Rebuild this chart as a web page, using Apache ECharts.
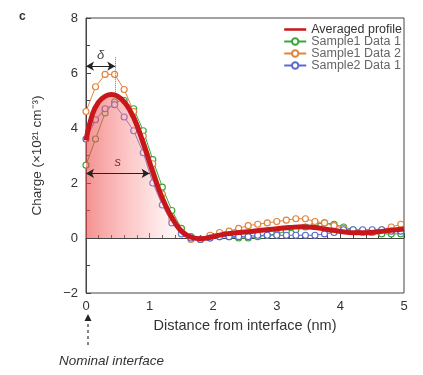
<!DOCTYPE html>
<html><head><meta charset="utf-8">
<script src="https://cdn.jsdelivr.net/npm/echarts@6/dist/echarts.min.js"></script>
<style>html,body{margin:0;padding:0;background:#fff}#c{width:423px;height:375px}</style>
</head><body><div id="c"></div>
<script>
var xs = [0,0.15,0.3,0.45,0.6,0.75,0.9,1.05,1.2,1.35,1.5,1.65,1.8,1.95,2.1,2.25,2.4,2.55,2.7,2.85,3.0,3.15,3.3,3.45,3.6,3.75,3.9,4.05,4.2,4.35,4.5,4.65,4.8,4.95];
var sample1Data1 = [2.65,3.6,4.55,4.95,5.0,4.7,3.9,2.85,1.85,1.0,0.35,0.05,-0.05,0.0,0.05,0.05,0.0,0.0,0.05,0.1,0.15,0.25,0.3,0.4,0.5,0.55,0.5,0.4,0.3,0.25,0.2,0.15,0.15,0.15];
var sample1Data2 = [4.6,5.5,5.95,5.95,5.4,4.6,3.7,2.7,1.6,0.7,0.2,-0.05,-0.05,0.1,0.2,0.25,0.35,0.45,0.5,0.55,0.6,0.65,0.7,0.7,0.6,0.55,0.45,0.35,0.25,0.2,0.2,0.3,0.4,0.5];
var sample2Data1 = [3.6,4.3,4.7,4.85,4.4,3.9,3.1,2.0,1.2,0.55,0.15,0.0,-0.05,0.0,0.05,0.05,0.05,0.05,0.1,0.1,0.1,0.1,0.1,0.1,0.1,0.15,0.2,0.3,0.3,0.3,0.3,0.3,0.25,0.25];
var avgX = [0,0.1,0.2,0.3,0.4,0.5,0.6,0.7,0.8,0.9,1.0,1.1,1.2,1.3,1.4,1.5,1.6,1.7,1.8,1.9,2.0,2.2,2.4,2.6,2.8,3.0,3.2,3.4,3.6,3.8,4.0,4.2,4.4,4.6,4.8,5.0];
var avgY = [3.55,4.5,4.95,5.15,5.22,5.15,4.95,4.6,4.1,3.45,2.75,2.05,1.45,0.95,0.55,0.25,0.08,0.0,-0.03,0.0,0.05,0.15,0.2,0.24,0.29,0.34,0.38,0.41,0.38,0.31,0.24,0.19,0.19,0.23,0.28,0.33];
var yTicks = [-2,0,2,4,6,8];
var xTicks = [0,1,2,3,4,5];

function pairs(x, y){ return x.map(function(v,i){ return [v, y[i]]; }); }
var FONT = 'Liberation Sans';
var chart = echarts.init(document.getElementById('c'));
function sampleSeries(name, data, color){
  return {name:name, type:'line', data:pairs(xs,data), symbol:'circle', symbolSize:6,
    itemStyle:{color:'#fff', borderColor:color, borderWidth:1.2},
    lineStyle:{color:color, width:1}, z:3};
}
var graphics = [
  {type:'text', left:19, top:11, style:{text:'c', fontFamily:FONT, fontWeight:'bold', fontSize:12, fill:'#333'}}
];
chart.setOption({
  animation:false,
  textStyle:{fontFamily:FONT},
  grid:{left:86, right:19, top:18, bottom:82, show:true, borderColor:'#444', borderWidth:1, backgroundColor:'transparent'},
  legend:{
    orient:'vertical', right:16, top:18, itemGap:-1, itemWidth:22, itemHeight:8,
    textStyle:{fontFamily:FONT, fontSize:12.5, color:'#666'},
    data:[{name:'Averaged profile', icon:'path://M0,0L0.01,0M0,2.6L24,2.6L24,5.4L0,5.4ZM0,8L0.01,8', textStyle:{color:'#333'}},
      'Sample1 Data 1','Sample1 Data 2','Sample2 Data 1']
  },
  xAxis:{type:'value', min:0, max:5, interval:1,
    name:'Distance from interface (nm)', nameLocation:'middle', nameGap:25,
    nameTextStyle:{fontFamily:FONT, fontSize:14.5, color:'#333'},
    axisLine:{lineStyle:{color:'#444'}},
    axisTick:{inside:true, length:5, lineStyle:{color:'#444'}},
    minorTick:{show:true, splitNumber:5, length:3, lineStyle:{color:'#444'}},
    axisLabel:{fontFamily:FONT, fontSize:13, color:'#333', margin:7},
    splitLine:{show:false}},
  yAxis:{type:'value', min:-2, max:8, interval:2,
    name:'Charge (×10²¹ cm⁻³)', nameLocation:'middle', nameGap:42,
    nameTextStyle:{fontFamily:FONT, fontSize:13.5, color:'#333'},
    axisLine:{lineStyle:{color:'#444'}},
    axisTick:{inside:true, length:5, lineStyle:{color:'#444'}},
    minorTick:{show:true, splitNumber:2, length:4, lineStyle:{color:'#444'}},
    axisLabel:{fontFamily:FONT, fontSize:13, color:'#333', margin:8,
      formatter:function(v){ return v<0 ? '\u2212'+Math.abs(v) : String(v); }},
    splitLine:{show:false}},
  series:[
    {name:'Averaged profile', type:'line', data:pairs(avgX,avgY), smooth:true, showSymbol:false, symbol:'none',
      lineStyle:{color:'#c8161a', width:5}, itemStyle:{color:'#c8161a'}, z:4,
      areaStyle:{origin:0, color:{type:'linear', x:0, y:0, x2:1, y2:0, colorStops:[
        {offset:0, color:'rgba(238,70,70,0.85)'},
        {offset:0.08, color:'rgba(244,105,105,0.72)'},
        {offset:0.18, color:'rgba(250,150,150,0.55)'},
        {offset:0.28, color:'rgba(255,205,205,0.3)'},
        {offset:0.36, color:'rgba(255,255,255,0)'},
        {offset:1, color:'rgba(255,255,255,0)'}]}},
      markLine:{silent:true, symbol:['none','none'], z:2,
        lineStyle:{color:'#444', width:1, type:'solid'}, label:{show:false},
        data:[{yAxis:0}]}
    },
    sampleSeries('Sample1 Data 1', sample1Data1, '#3aa63a'),
    sampleSeries('Sample1 Data 2', sample1Data2, '#e0843c'),
    sampleSeries('Sample2 Data 1', sample2Data1, '#5a6ad0'),
    {name:'annot', type:'line', data:[], z:6,
      markLine:{silent:true, symbol:['arrow','arrow'], symbolSize:[7,8],
        lineStyle:{color:'#222', width:1, type:'solid'},
        label:{show:true, position:'middle', fontFamily:FONT, fontStyle:'italic', fontSize:13, color:'#444', distance:4},
        data:[
          [{coord:[0,6.25], name:'δ'}, {coord:[0.46,6.25]}],
          [{coord:[0,2.35], name:'s', label:{color:'#8a2a2a', fontSize:13}}, {coord:[1.0,2.35]}],
          [{coord:[0.46,5.3], symbol:'none', lineStyle:{type:'dotted', color:'#777'}, label:{show:false}}, {coord:[0.46,6.6], symbol:'none'}]
        ]}
    }
  ],
  graphic:graphics
});
var p0 = chart.convertToPixel({xAxisIndex:0, yAxisIndex:0}, [0,-2]);
chart.setOption({graphic:graphics.concat([
  {type:'line', shape:{x1:p0[0]+2, y1:p0[1]+52, x2:p0[0]+2, y2:p0[1]+28}, style:{stroke:'#333', lineWidth:1.2, lineDash:[3,3]}},
  {type:'polygon', shape:{points:[[p0[0]+2,p0[1]+21],[p0[0]-1.5,p0[1]+28],[p0[0]+5.5,p0[1]+28]]}, style:{fill:'#222'}},
  {type:'text', x:p0[0]-27, y:p0[1]+61, style:{text:'Nominal interface', fontFamily:FONT, fontStyle:'italic', fontSize:13.5, fill:'#333'}}
])});
</script></body></html>
